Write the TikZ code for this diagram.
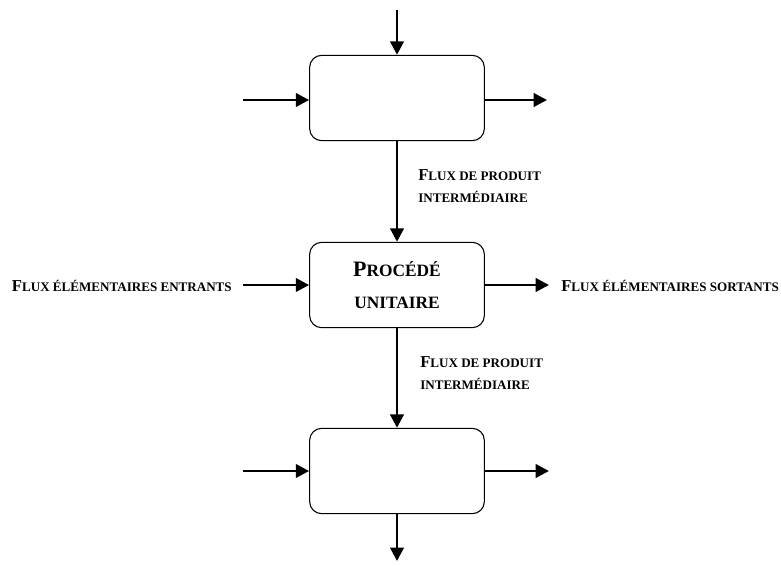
\documentclass[tikz,border=0pt]{standalone}
\usepackage{fontspec}
\setmainfont{Liberation Serif}
\usepackage{tikz}
\usetikzlibrary{positioning,arrows.meta}
% fausses petites capitales : initiale normale, reste en majuscules reduites
\newcommand{\pcap}[2]{#1{\fontsize{9.8pt}{11pt}\selectfont #2}}
\newcommand{\gcap}[2]{#1{\fontsize{13pt}{15pt}\selectfont #2}}

\begin{document}
\begin{tikzpicture}[x=0.75pt,y=-0.75pt,
  bloc/.style={draw,line width=0.8pt,rounded corners=9pt,minimum width=131pt,minimum height=64pt,align=center},
  flux/.style={-{Triangle[length=10pt,width=10pt]},line width=2.1pt},
  etiq/.style={font=\fontsize{12.5pt}{17pt}\selectfont\bfseries,align=left,inner sep=0pt}]
\useasboundingbox (0,0) rectangle (781,566);
\node[bloc] (haut) at (397,98) {};
\node[bloc,font=\fontsize{16.5pt}{24pt}\selectfont\bfseries] (proc) at (397,285)
  {\gcap{P}{ROCÉDÉ}\\{\fontsize{13pt}{15pt}\selectfont UNITAIRE}};
\node[bloc] (bas) at (397,471) {};
% entrees et sorties
\coordinate (h0) at (397,10);
\coordinate (b0) at (397,561);
\coordinate (gh) at (243,100);
\coordinate (dh) at (547,100);
\coordinate (gp) at (243,285);
\coordinate (dp) at (549,285);
\coordinate (gb) at (243,471);
\coordinate (db) at (549,471);
\draw[flux] (h0) -- (haut);
\draw[flux] (haut) -- (proc);
\draw[flux] (proc) -- (bas);
\draw[flux] (bas) -- (b0);
\draw[flux] (gh) -- (haut.west |- gh);
\draw[flux] (haut.east |- dh) -- (dh);
\draw[flux] (gp) -- (proc);
\draw[flux] (proc) -- (dp);
\draw[flux] (gb) -- (bas.west |- gb);
\draw[flux] (bas.east |- db) -- (db);
% libelles
\node[etiq,anchor=east] (entrants) at (232,286) {\pcap{F}{LUX ÉLÉMENTAIRES ENTRANTS}};
\node[etiq,anchor=west] (sortants) at (561,286) {\pcap{F}{LUX ÉLÉMENTAIRES SORTANTS}};
\node[etiq,anchor=north west] (inter1) at (418,169) {\pcap{F}{LUX DE PRODUIT}\\\pcap{}{INTERMÉDIAIRE}};
\node[etiq,anchor=north west] (inter2) at (420,356) {\pcap{F}{LUX DE PRODUIT}\\\pcap{}{INTERMÉDIAIRE}};
\end{tikzpicture}
\end{document}
